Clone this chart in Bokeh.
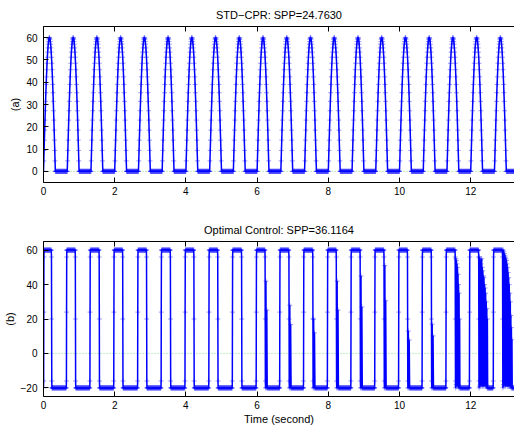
import numpy as np
from bokeh.plotting import figure
from bokeh.layouts import column
from bokeh.models import ColumnDataSource, Span, FixedTicker, LinearAxis, Range1d
from bokeh.embed import file_html
from bokeh.resources import INLINE

# ---------------- data ----------------
x_ticks = [0, 2, 4, 6, 8, 10, 12]
a_y_ticks = [0, 10, 20, 30, 40, 50, 60]
b_y_ticks = [-20, 0, 20, 40, 60]
t_end = 13.33

title_a = "STD\u2212CPR: SPP=24.7630"
title_b = "Optimal Control: SPP=36.1164"
ylabel_a = "(a)"
ylabel_b = "(b)"
xlabel_b = "Time (second)"

# (a) standard CPR: half-sine compressions
std_cycle_starts = [0.0, 0.667, 1.333, 2.0, 2.667, 3.333, 4.0, 4.667, 5.333, 6.0,
                    6.667, 7.333, 8.0, 8.667, 9.333, 10.0, 10.667, 11.333, 12.0, 12.667]
std_pulse_duration = 0.333
std_pulse_values = [0, 4.7, 9.4, 14.0, 18.5, 23.0, 27.2, 31.4, 35.3, 39.0,
                    42.4, 45.6, 48.5, 51.2, 53.5, 55.4, 57.1, 58.3, 59.3, 59.8,
                    60.0,
                    59.8, 59.3, 58.3, 57.1, 55.4, 53.5, 51.2, 48.5, 45.6, 42.4,
                    39.0, 35.3, 31.4, 27.2, 23.0, 18.5, 14.0, 9.4, 4.7, 0]
std_rest_value = 0.0

# (b) optimal control: bang-bang between 60 and -20
opt_high = 60
opt_low = -20
opt_rise_times = [0.0, 0.64, 1.30, 1.97, 2.64, 3.30, 3.97, 4.64, 5.30, 5.97,
                  6.63, 7.30, 7.97, 8.63, 9.30, 9.97, 10.63, 11.30, 11.96, 12.63]
opt_fall_times = [0.22, 0.89, 1.56, 2.22, 2.89, 3.56, 4.22, 4.89, 5.56, 6.22,
                  6.89, 7.56, 8.22, 8.89, 9.56, 10.22, 10.89, 11.56, 12.22, 12.89]
opt_rise_edge = [-20, -16, 24, 56, 60]
opt_fall_edge = [60, 56, 20, -16, -20]
opt_fall_rebound = [None, None, None, None, None, None, None, None, None, 42,
                    28, 20, 42, 45, 51, 13, 17, None, None, None]
opt_chatter = {
    17: [55, -18, 54, -19, 52, -17, 50, -19, 46, -18, 40, -20, 35, -19, 20, -20],
    18: [56, -19, 55, -18, 54, -19, 52, -17, 55, -18, 50, -19, 48, -18, 45, -19,
         44, -17, 40, -18, 38, -19, 35, -18, 30, -19, 26, -20, 20, -20],
    19: [60, -18, 59, -19, 58, -17, 57, -18, 56, -19, 55, -18, 54, -17, 52, -19,
         50, -18, 47, -19, 44, -18, 40, -19, 35, -18, 30, -19, 22, -20, 15, -20,
         8, -20],
}
opt_chatter_span = {17: 0.12, 18: 0.24, 19: 0.26}

# ---------------- build sampled series ----------------
dt = 1.0 / 120.0
edge_dt = 0.004


def flat(t0, t1, v):
    ts = np.arange(t0 + dt, t1 - dt / 2.0, dt)
    return list(ts), [v] * len(ts)


ta, ya = [], []
n_p = len(std_pulse_values) - 1
for i, s in enumerate(std_cycle_starts):
    for j, v in enumerate(std_pulse_values):
        ta.append(s + std_pulse_duration * j / n_p)
        ya.append(v)
    nxt = std_cycle_starts[i + 1] if i + 1 < len(std_cycle_starts) else t_end
    ts, vs = flat(s + std_pulse_duration, nxt, std_rest_value)
    ta += ts
    ya += vs

tb, yb = [], []
for k in range(len(opt_rise_times)):
    r = opt_rise_times[k]
    f = opt_fall_times[k]
    for j, v in enumerate(opt_rise_edge):
        tb.append(r + j * edge_dt)
        yb.append(v)
    r_end = r + (len(opt_rise_edge) - 1) * edge_dt
    ts, vs = flat(r_end, f, opt_high)
    tb += ts
    yb += vs
    for j, v in enumerate(opt_fall_edge):
        tb.append(f + j * edge_dt)
        yb.append(v)
    t_last = f + (len(opt_fall_edge) - 1) * edge_dt
    if k in opt_chatter:
        vals = opt_chatter[k]
        span = opt_chatter_span[k]
        for j, v in enumerate(vals):
            tb.append(t_last + span * (j + 1) / len(vals))
            yb.append(v)
        t_last += span
    elif opt_fall_rebound[k] is not None:
        tb += [t_last + 0.012, t_last + 0.024, t_last + 0.036]
        yb += [opt_fall_rebound[k], opt_low, opt_fall_rebound[k] * 0.6]
        tb += [t_last + 0.048]
        yb += [opt_low]
        t_last += 0.048
    nxt = opt_rise_times[k + 1] if k + 1 < len(opt_rise_times) else t_end
    ts, vs = flat(t_last, nxt, opt_low)
    tb += ts
    yb += vs

src_a = ColumnDataSource(dict(t=ta, y=ya))
src_b = ColumnDataSource(dict(t=tb, y=yb))

FONT = "Liberation Sans"
X_END = 13.23


def make_fig(height, yr, yticks, title, ylabel, xlabel, border_top, border_bottom, src):
    p = figure(width=514, height=height, x_range=Range1d(0, X_END), y_range=Range1d(*yr),
               output_backend="svg", toolbar_location=None,
               min_border_left=41, min_border_right=0,
               min_border_top=border_top, min_border_bottom=border_bottom,
               title=title)
    p.outline_line_color = None
    p.background_fill_color = "white"
    p.border_fill_color = "white"
    p.grid.visible = False
    p.title.text_font = FONT
    p.title.text_font_size = "11px"
    p.title.text_font_style = "normal"
    p.title.text_color = "black"
    p.title.align = "center"
    p.title.offset = 2
    p.title.standoff = 12

    for ax in (p.xaxis[0], p.yaxis[0]):
        ax.major_tick_in = 5
        ax.major_tick_out = 0
        ax.minor_tick_line_color = None
        ax.axis_line_color = "black"
        ax.major_tick_line_color = "black"
        ax.major_label_text_font = FONT
        ax.major_label_text_font_size = "10px"
        ax.major_label_text_color = "black"
        ax.axis_label_text_font = FONT
        ax.axis_label_text_font_size = "11px"
        ax.axis_label_text_font_style = "normal"
        ax.axis_label_text_color = "black"
    p.xaxis[0].ticker = FixedTicker(ticks=x_ticks)
    p.yaxis[0].ticker = FixedTicker(ticks=yticks)
    p.xaxis[0].major_label_standoff = 4
    p.yaxis[0].major_label_standoff = 6
    p.yaxis[0].axis_label = ylabel
    p.yaxis[0].axis_label_standoff = 2
    p.yaxis[0].major_label_overrides = {v: ("\u2212" + str(-v)) for v in yticks if v < 0}
    if xlabel:
        p.xaxis[0].axis_label = xlabel
        p.xaxis[0].axis_label_standoff = 1

    top = LinearAxis(ticker=FixedTicker(ticks=x_ticks), major_tick_in=5, major_tick_out=0,
                     major_label_text_color=None, major_label_text_font_size="10px",
                     major_label_standoff=0,
                     minor_tick_line_color=None, axis_line_color="black",
                     major_tick_line_color="black")
    p.add_layout(top, "above")

    p.add_layout(Span(location=0, dimension="width", line_color="#55cc55",
                      line_alpha=0.7, line_dash="1 2", line_width=1, level="underlay"))
    p.scatter("t", "y", source=src, marker="cross", size=5, line_color="#2222ff",
              line_alpha=0.45, line_width=1)
    p.line("t", "y", source=src, line_color="#0000ff", line_width=1.5)
    return p


p1 = make_fig(205, (-5, 65), a_y_ticks, title_a, ylabel_a, None, 23, 23, src_a)
p2 = make_fig(222, (-25, 65), b_y_ticks, title_b, ylabel_b, xlabel_b, 36, 28, src_b)

layout = column(p1, p2, spacing=0)
open("out.html", "w").write(file_html(layout, INLINE))
